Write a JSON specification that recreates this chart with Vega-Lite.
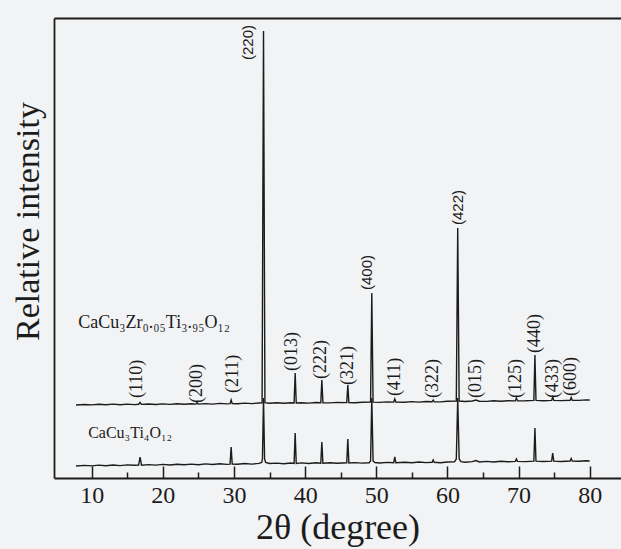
{
  "$schema": "https://vega.github.io/schema/vega-lite/v6.json",
  "width": 567,
  "height": 460,
  "autosize": {"type": "none"},
  "padding": {"left": 54, "top": 18, "right": 0, "bottom": 71},
  "background": "#f2f3f4",
  "config": {"view": {"stroke": null}},
  "datasets": {
    "traces": [
      {"s":"Zr","x":7.8,"y":73},{"s":"Zr","x":9,"y":73.5},{"s":"Zr","x":10,"y":73.1},{"s":"Zr","x":11,"y":73.8},{"s":"Zr","x":12,"y":73.2},{"s":"Zr","x":13,"y":73.9},{"s":"Zr","x":14,"y":73.3},{"s":"Zr","x":15,"y":73.9},{"s":"Zr","x":16,"y":73.4},{"s":"Zr","x":16.6,"y":73.7},{"s":"Zr","x":16.8,"y":75.5},{"s":"Zr","x":17.0,"y":73.6},{"s":"Zr","x":18,"y":74},{"s":"Zr","x":19,"y":73.5},{"s":"Zr","x":20,"y":74.1},{"s":"Zr","x":21,"y":73.6},{"s":"Zr","x":22,"y":74.3},{"s":"Zr","x":23,"y":73.8},{"s":"Zr","x":24,"y":74.2},{"s":"Zr","x":24.65,"y":73.9},{"s":"Zr","x":24.8,"y":75.5},{"s":"Zr","x":24.95,"y":73.9},{"s":"Zr","x":26,"y":74.4},{"s":"Zr","x":27,"y":73.9},{"s":"Zr","x":28,"y":74.6},{"s":"Zr","x":29,"y":74.1},{"s":"Zr","x":29.45,"y":74.4},{"s":"Zr","x":29.6,"y":78},{"s":"Zr","x":29.75,"y":74.4},{"s":"Zr","x":30.5,"y":74.3},{"s":"Zr","x":31.5,"y":74.9},{"s":"Zr","x":32.5,"y":74.4},{"s":"Zr","x":33.5,"y":75},{"s":"Zr","x":33.95,"y":75.2},{"s":"Zr","x":34.15,"y":447},{"s":"Zr","x":34.35,"y":75.3},{"s":"Zr","x":35,"y":74.7},{"s":"Zr","x":36,"y":75.2},{"s":"Zr","x":37,"y":74.7},{"s":"Zr","x":38,"y":75.2},{"s":"Zr","x":38.45,"y":75},{"s":"Zr","x":38.6,"y":105},{"s":"Zr","x":38.75,"y":75},{"s":"Zr","x":39.5,"y":75.3},{"s":"Zr","x":40.5,"y":74.9},{"s":"Zr","x":41.5,"y":75.5},{"s":"Zr","x":42.2,"y":75.2},{"s":"Zr","x":42.35,"y":98},{"s":"Zr","x":42.5,"y":75.2},{"s":"Zr","x":43.5,"y":75.1},{"s":"Zr","x":44.5,"y":75.6},{"s":"Zr","x":45.85,"y":75.4},{"s":"Zr","x":46.0,"y":93},{"s":"Zr","x":46.15,"y":75.4},{"s":"Zr","x":47,"y":75.3},{"s":"Zr","x":48,"y":75.8},{"s":"Zr","x":49.2,"y":75.9},{"s":"Zr","x":49.37,"y":185},{"s":"Zr","x":49.55,"y":75.9},{"s":"Zr","x":50.5,"y":75.6},{"s":"Zr","x":51.5,"y":76.1},{"s":"Zr","x":52.45,"y":75.9},{"s":"Zr","x":52.6,"y":79},{"s":"Zr","x":52.75,"y":75.9},{"s":"Zr","x":54,"y":75.8},{"s":"Zr","x":55,"y":76.4},{"s":"Zr","x":56,"y":75.9},{"s":"Zr","x":57,"y":76.5},{"s":"Zr","x":57.85,"y":76.2},{"s":"Zr","x":58,"y":78},{"s":"Zr","x":58.15,"y":76.2},{"s":"Zr","x":59,"y":76.1},{"s":"Zr","x":60,"y":76.7},{"s":"Zr","x":61.25,"y":77},{"s":"Zr","x":61.45,"y":250},{"s":"Zr","x":61.65,"y":77},{"s":"Zr","x":62.5,"y":76.5},{"s":"Zr","x":63.5,"y":77},{"s":"Zr","x":64,"y":78},{"s":"Zr","x":64.5,"y":76.8},{"s":"Zr","x":65.5,"y":76.6},{"s":"Zr","x":66.5,"y":77.2},{"s":"Zr","x":67.5,"y":76.8},{"s":"Zr","x":68.5,"y":77.3},{"s":"Zr","x":69.55,"y":77.1},{"s":"Zr","x":69.7,"y":80},{"s":"Zr","x":69.85,"y":77.1},{"s":"Zr","x":71,"y":77.2},{"s":"Zr","x":72.15,"y":77.6},{"s":"Zr","x":72.3,"y":123},{"s":"Zr","x":72.45,"y":77.6},{"s":"Zr","x":73.5,"y":77.3},{"s":"Zr","x":74.65,"y":77.6},{"s":"Zr","x":74.8,"y":81},{"s":"Zr","x":74.95,"y":77.6},{"s":"Zr","x":76,"y":77.4},{"s":"Zr","x":77.25,"y":77.7},{"s":"Zr","x":77.4,"y":80.5},{"s":"Zr","x":77.55,"y":77.7},{"s":"Zr","x":78.5,"y":77.6},{"s":"Zr","x":79.5,"y":78.1},{"s":"Zr","x":80,"y":78},
      {"s":"Pure","x":7.8,"y":12},{"s":"Pure","x":9,"y":12.6},{"s":"Pure","x":10,"y":12.1},{"s":"Pure","x":11,"y":12.9},{"s":"Pure","x":12,"y":12.3},{"s":"Pure","x":13,"y":13},{"s":"Pure","x":14,"y":12.4},{"s":"Pure","x":15,"y":13.1},{"s":"Pure","x":16,"y":12.7},{"s":"Pure","x":16.6,"y":12.9},{"s":"Pure","x":16.8,"y":21},{"s":"Pure","x":17.0,"y":12.8},{"s":"Pure","x":18,"y":13.4},{"s":"Pure","x":19,"y":12.9},{"s":"Pure","x":20,"y":13.6},{"s":"Pure","x":21,"y":13},{"s":"Pure","x":22,"y":13.8},{"s":"Pure","x":23,"y":13.2},{"s":"Pure","x":24,"y":13.9},{"s":"Pure","x":25,"y":13.3},{"s":"Pure","x":26,"y":14.1},{"s":"Pure","x":27,"y":13.5},{"s":"Pure","x":28,"y":14.2},{"s":"Pure","x":29,"y":13.6},{"s":"Pure","x":29.45,"y":13.9},{"s":"Pure","x":29.6,"y":31},{"s":"Pure","x":29.75,"y":14},{"s":"Pure","x":30.5,"y":13.8},{"s":"Pure","x":31.5,"y":14.5},{"s":"Pure","x":32.5,"y":13.9},{"s":"Pure","x":33.5,"y":14.6},{"s":"Pure","x":33.9,"y":15.5},{"s":"Pure","x":34.0,"y":19},{"s":"Pure","x":34.15,"y":80},{"s":"Pure","x":34.3,"y":19},{"s":"Pure","x":34.45,"y":15.5},{"s":"Pure","x":35,"y":14.5},{"s":"Pure","x":36,"y":14.9},{"s":"Pure","x":37,"y":14.3},{"s":"Pure","x":38,"y":15},{"s":"Pure","x":38.45,"y":14.6},{"s":"Pure","x":38.6,"y":45},{"s":"Pure","x":38.75,"y":14.6},{"s":"Pure","x":39.5,"y":15.1},{"s":"Pure","x":40.5,"y":14.5},{"s":"Pure","x":41.5,"y":15.2},{"s":"Pure","x":42.2,"y":14.7},{"s":"Pure","x":42.35,"y":36},{"s":"Pure","x":42.5,"y":14.8},{"s":"Pure","x":43.5,"y":15.3},{"s":"Pure","x":44.5,"y":14.8},{"s":"Pure","x":45.85,"y":15.2},{"s":"Pure","x":46.0,"y":39},{"s":"Pure","x":46.15,"y":15},{"s":"Pure","x":47,"y":15.4},{"s":"Pure","x":48,"y":14.9},{"s":"Pure","x":49.0,"y":15.3},{"s":"Pure","x":49.2,"y":17},{"s":"Pure","x":49.37,"y":80},{"s":"Pure","x":49.55,"y":17},{"s":"Pure","x":49.8,"y":15.5},{"s":"Pure","x":50.5,"y":15},{"s":"Pure","x":51.5,"y":15.6},{"s":"Pure","x":52.45,"y":15.2},{"s":"Pure","x":52.6,"y":21},{"s":"Pure","x":52.75,"y":15.2},{"s":"Pure","x":54,"y":15.8},{"s":"Pure","x":55,"y":15.2},{"s":"Pure","x":56,"y":16},{"s":"Pure","x":57,"y":15.4},{"s":"Pure","x":57.85,"y":15.7},{"s":"Pure","x":58,"y":18},{"s":"Pure","x":58.15,"y":15.7},{"s":"Pure","x":59,"y":15.3},{"s":"Pure","x":60,"y":16},{"s":"Pure","x":61.0,"y":16.2},{"s":"Pure","x":61.25,"y":19},{"s":"Pure","x":61.45,"y":80},{"s":"Pure","x":61.65,"y":19},{"s":"Pure","x":61.9,"y":16.3},{"s":"Pure","x":62.5,"y":15.8},{"s":"Pure","x":63.5,"y":16.4},{"s":"Pure","x":64,"y":17.5},{"s":"Pure","x":64.5,"y":16},{"s":"Pure","x":65.5,"y":16.6},{"s":"Pure","x":66.5,"y":16},{"s":"Pure","x":67.5,"y":16.7},{"s":"Pure","x":68.5,"y":16.2},{"s":"Pure","x":69.55,"y":16.6},{"s":"Pure","x":69.7,"y":19},{"s":"Pure","x":69.85,"y":16.6},{"s":"Pure","x":71,"y":16.4},{"s":"Pure","x":72.15,"y":16.8},{"s":"Pure","x":72.3,"y":50},{"s":"Pure","x":72.45,"y":16.8},{"s":"Pure","x":73.5,"y":16.5},{"s":"Pure","x":74.65,"y":16.9},{"s":"Pure","x":74.8,"y":25},{"s":"Pure","x":74.95,"y":16.9},{"s":"Pure","x":76,"y":16.5},{"s":"Pure","x":77.25,"y":17},{"s":"Pure","x":77.4,"y":19.5},{"s":"Pure","x":77.55,"y":17},{"s":"Pure","x":78.5,"y":16.7},{"s":"Pure","x":79.5,"y":17.3},{"s":"Pure","x":80,"y":17}
    ],
    "hkl": [
      {"label":"(110)","x":16.3,"y":80,"f":"serif"},
      {"label":"(200)","x":24.8,"y":75,"f":"serif"},
      {"label":"(211)","x":29.8,"y":85,"f":"serif"},
      {"label":"(013)","x":38.15,"y":107,"f":"serif"},
      {"label":"(222)","x":42.2,"y":99,"f":"serif"},
      {"label":"(321)","x":46.0,"y":93,"f":"serif"},
      {"label":"(411)","x":52.6,"y":82,"f":"serif"},
      {"label":"(322)","x":58.0,"y":80,"f":"serif"},
      {"label":"(015)","x":64.0,"y":80,"f":"serif"},
      {"label":"(125)","x":69.7,"y":80,"f":"serif"},
      {"label":"(440)","x":72.3,"y":125,"f":"serif"},
      {"label":"(433)","x":74.8,"y":80,"f":"serif"},
      {"label":"(600)","x":77.4,"y":82,"f":"serif"},
      {"label":"(220)","x":32.0,"y":418,"f":"sans"},
      {"label":"(400)","x":48.7,"y":188,"f":"sans"},
      {"label":"(422)","x":61.45,"y":253,"f":"sans"}
    ],
    "names": [
      {"name":"CaCu₃Zr₀.₀₅Ti₃.₉₅O₁₂","x":8.1,"y":155,"sz":18},
      {"name":"CaCu₃Ti₄O₁₂","x":9.5,"y":45,"sz":16}
    ]
  },
  "layer": [
    {
      "data": {"name": "traces"},
      "mark": {"type": "line", "color": "#1c1c1c", "strokeWidth": 1.4, "interpolate": "linear"},
      "encoding": {
        "x": {"field": "x", "type": "quantitative", "scale": {"domain": [4.7, 84.4], "nice": false, "zero": false},
          "axis": {"orient": "bottom", "values": [10,15,20,25,30,35,40,45,50,55,60,65,70,75,80],
            "labelExpr": "datum.value % 10 === 0 ? datum.label : ''",
            "tickSize": {"condition": {"test": "datum.value % 10 === 0", "value": -12}, "value": -6},
            "tickColor": "#1c1c1c", "tickWidth": 1.5, "domainColor": "#1c1c1c", "domainWidth": 1.8,
            "labelFont": "Liberation Serif", "labelFontSize": 24, "labelColor": "#1c1c1c", "labelPadding": 17,
            "grid": false, "title": "2θ (degree)", "titleFont": "Liberation Serif", "titleFontSize": 36,
            "titleFontWeight": "normal", "titleColor": "#1c1c1c", "titlePadding": 3}},
        "y": {"field": "y", "type": "quantitative", "scale": {"domain": [0, 460], "nice": false},
          "axis": {"orient": "left", "ticks": false, "labels": false, "grid": false,
            "domainColor": "#1c1c1c", "domainWidth": 1.8,
            "title": "Relative intensity", "titleFont": "Liberation Serif", "titleFontSize": 34,
            "titleFontWeight": "normal", "titleColor": "#1c1c1c", "titleX": -26, "titleY": 203,
            "titleAngle": 270, "titleAlign": "center", "titleBaseline": "middle"}},
        "detail": {"field": "s", "type": "nominal"}
      }
    },
    {
      "data": {"name": "hkl"},
      "transform": [{"filter": "datum.f === 'serif'"}],
      "mark": {"type": "text", "angle": 270, "align": "left", "baseline": "middle", "color": "#1c1c1c", "font": "Liberation Serif", "fontSize": 18},
      "encoding": {
        "x": {"field": "x", "type": "quantitative",
          "axis": {"orient": "top", "ticks": false, "labels": false, "grid": false, "title": null,
            "domainColor": "#1c1c1c", "domainWidth": 1.8}},
        "y": {"field": "y", "type": "quantitative"},
        "text": {"field": "label"}
      }
    },
    {
      "data": {"name": "hkl"},
      "transform": [{"filter": "datum.f === 'sans'"}],
      "mark": {"type": "text", "angle": 270, "align": "left", "baseline": "middle", "color": "#1c1c1c", "font": "Liberation Sans", "fontSize": 15},
      "encoding": {
        "x": {"field": "x", "type": "quantitative", "axis": null},
        "y": {"field": "y", "type": "quantitative"},
        "text": {"field": "label"}
      }
    },
    {
      "data": {"name": "names"},
      "mark": {"type": "text", "align": "left", "baseline": "middle", "font": "Liberation Serif", "color": "#1c1c1c"},
      "encoding": {
        "x": {"field": "x", "type": "quantitative", "axis": null},
        "y": {"field": "y", "type": "quantitative"},
        "text": {"field": "name"},
        "size": {"field": "sz", "type": "quantitative", "scale": null}
      }
    }
  ],
  "resolve": {"axis": {"x": "independent"}}
}
